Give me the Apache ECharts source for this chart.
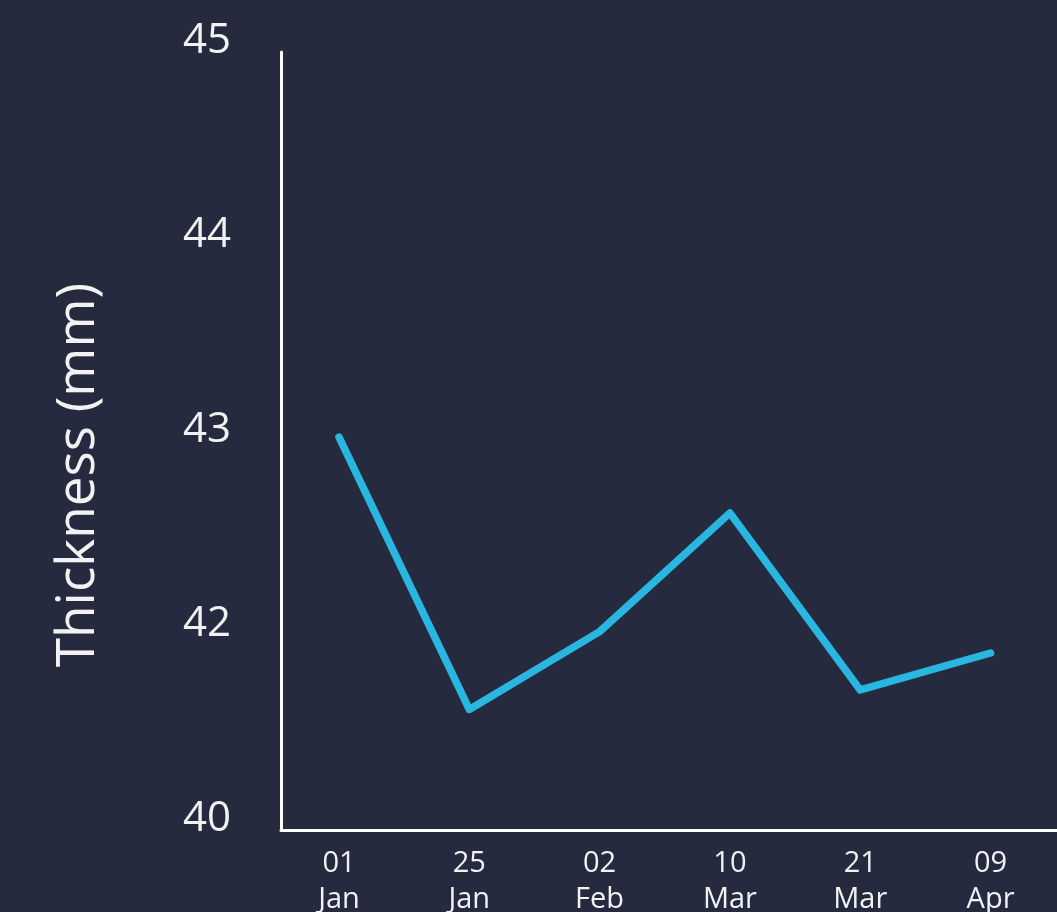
<!DOCTYPE html>
<html>
<head>
<meta charset="utf-8">
<style>
  html, body { margin: 0; padding: 0; background: #252a3f; }
  #chart { width: 1057px; height: 912px; }
</style>
<script src="https://cdn.jsdelivr.net/npm/echarts@6/dist/echarts.min.js"></script>
</head>
<body>
<div id="chart"></div>
<script>
// Measurement dates (two-line labels: day / month)
const categories = ['01\nJan', '25\nJan', '02\nFeb', '10\nMar', '21\nMar', '09\nApr'];
// Thickness readings in mm
const thickness = [43.02, 41.62, 42.02, 42.63, 41.72, 41.91];
// Y-axis ticks and the text shown at each (bottom tick carries the "40" label)
const yTickValues = [41, 42, 43, 44, 45];
const yTickLabels = ['40', '42', '43', '44', '45'];
const yAxisTitle = 'Thickness (mm)';

const FONT = '"Open Sans", "Noto Sans", sans-serif';
const chart = echarts.init(document.getElementById('chart'), null, { renderer: 'canvas' });

chart.setOption({
  backgroundColor: '#252a3f',
  animation: false,
  grid: { left: 281, right: 0, top: 52, bottom: 82, containLabel: false, outerBoundsMode: 'none' },
  graphic: [{
    type: 'text',
    rotation: Math.PI / 2,
    x: 79,
    y: 475,
    style: {
      text: yAxisTitle,
      fill: '#f2f2f2',
      font: '53px ' + FONT,
      textAlign: 'center',
      textVerticalAlign: 'middle'
    }
  }],
  xAxis: {
    type: 'value',
    min: -0.445,
    max: 5.51,
    axisLine: { show: true, onZero: false, lineStyle: { color: '#ffffff', width: 3 } },
    axisTick: { show: false },
    splitLine: { show: false },
    axisLabel: {
      customValues: categories.map((_, i) => i),
      formatter: v => categories[Math.round(v)],
      color: '#f2f2f2',
      fontFamily: FONT,
      fontSize: 29,
      lineHeight: 36,
      margin: 16,
      showMinLabel: true,
      showMaxLabel: true
    }
  },
  yAxis: {
    type: 'value',
    min: 41,
    max: 45,
    interval: 1,
    axisLine: { show: true, onZero: false, lineStyle: { color: '#ffffff', width: 3 } },
    axisTick: { show: false },
    splitLine: { show: false },
    axisLabel: {
      formatter: v => {
        const k = yTickValues.indexOf(Math.round(v));
        return k >= 0 ? yTickLabels[k] : '';
      },
      color: '#f2f2f2',
      fontFamily: FONT,
      fontSize: 42,
      lineHeight: 22,
      margin: 50,
      verticalAlign: 'bottom'
    }
  },
  series: [{
    type: 'line',
    data: thickness.map((v, i) => [i, v]),
    showSymbol: false,
    symbol: 'none',
    lineStyle: { color: '#29b7e2', width: 7.5, cap: 'round', join: 'round' }
  }]
});
</script>
</body>
</html>
